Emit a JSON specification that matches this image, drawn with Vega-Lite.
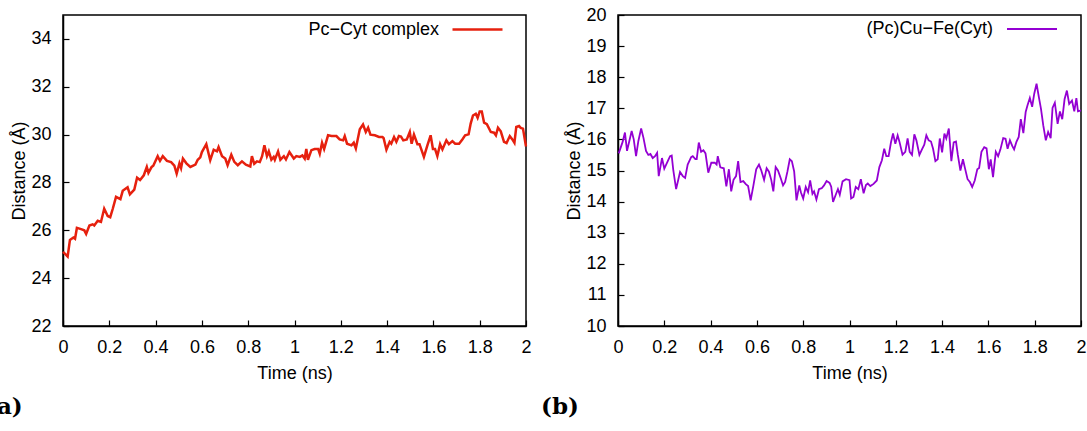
{
  "$schema": "https://vega.github.io/schema/vega-lite/v6.json",
  "background": "white",
  "padding": {"left": -15, "top": 2, "right": 0, "bottom": 0},
  "bounds": "flush",
  "spacing": 92,
  "resolve": {"scale": {"color": "independent", "x": "independent", "y": "independent"}, "legend": {"color": "independent"}},
  "config": {
    "font": "Liberation Sans",
    "view": {"stroke": "#000", "strokeWidth": 1.5},
    "axis": {
      "labelFont": "Liberation Sans", "labelFontSize": 18, "labelColor": "#000",
      "titleFont": "Liberation Sans", "titleFontSize": 18, "titleFontWeight": "normal", "titleColor": "#000",
      "domainColor": "#000", "domainWidth": 1.5, "tickColor": "#000", "tickWidth": 1.2,
      "tickSize": -6, "labelPadding": 18, "grid": false, "labelFlush": false
    },
    "axisX": {"titlePadding": 8, "minExtent": 30, "maxExtent": 30},
    "axisY": {"titlePadding": 1, "minExtent": 34, "maxExtent": 34},
    "legend": {
      "symbolType": "stroke", "symbolSize": 2500, "labelFont": "Liberation Sans", "labelFontSize": 18,
      "labelColor": "#000", "labelAlign": "right", "labelOffset": -65, "padding": 0, "labelLimit": 300
    },
    "title": {"font": "DejaVu Serif", "fontSize": 23, "fontWeight": "bold", "color": "#000"}
  },
  "datasets": {
    "a": [
      {"t":0.0,"d":25.1,"s":"Pc−Cyt complex"},{"t":0.01,"d":25.0,"s":"Pc−Cyt complex"},{"t":0.02,"d":24.9,"s":"Pc−Cyt complex"},{"t":0.03,"d":25.6,"s":"Pc−Cyt complex"},{"t":0.045,"d":25.7,"s":"Pc−Cyt complex"},{"t":0.052,"d":25.65,"s":"Pc−Cyt complex"},{"t":0.06,"d":26.1,"s":"Pc−Cyt complex"},{"t":0.078,"d":26.05,"s":"Pc−Cyt complex"},{"t":0.092,"d":26.0,"s":"Pc−Cyt complex"},{"t":0.1,"d":25.85,"s":"Pc−Cyt complex"},
      {"t":0.114,"d":26.2,"s":"Pc−Cyt complex"},{"t":0.128,"d":26.25,"s":"Pc−Cyt complex"},{"t":0.135,"d":26.2,"s":"Pc−Cyt complex"},{"t":0.15,"d":26.4,"s":"Pc−Cyt complex"},{"t":0.164,"d":26.35,"s":"Pc−Cyt complex"},{"t":0.178,"d":26.9,"s":"Pc−Cyt complex"},{"t":0.193,"d":26.6,"s":"Pc−Cyt complex"},{"t":0.204,"d":26.55,"s":"Pc−Cyt complex"},{"t":0.215,"d":26.9,"s":"Pc−Cyt complex"},{"t":0.229,"d":27.4,"s":"Pc−Cyt complex"},
      {"t":0.248,"d":27.3,"s":"Pc−Cyt complex"},{"t":0.258,"d":27.65,"s":"Pc−Cyt complex"},{"t":0.279,"d":27.8,"s":"Pc−Cyt complex"},{"t":0.289,"d":27.5,"s":"Pc−Cyt complex"},{"t":0.308,"d":27.7,"s":"Pc−Cyt complex"},{"t":0.32,"d":28.2,"s":"Pc−Cyt complex"},{"t":0.333,"d":28.1,"s":"Pc−Cyt complex"},{"t":0.349,"d":28.3,"s":"Pc−Cyt complex"},{"t":0.362,"d":28.65,"s":"Pc−Cyt complex"},{"t":0.369,"d":28.4,"s":"Pc−Cyt complex"},
      {"t":0.383,"d":28.65,"s":"Pc−Cyt complex"},{"t":0.39,"d":28.7,"s":"Pc−Cyt complex"},{"t":0.409,"d":29.1,"s":"Pc−Cyt complex"},{"t":0.419,"d":28.9,"s":"Pc−Cyt complex"},{"t":0.431,"d":29.1,"s":"Pc−Cyt complex"},{"t":0.449,"d":28.9,"s":"Pc−Cyt complex"},{"t":0.467,"d":28.85,"s":"Pc−Cyt complex"},{"t":0.481,"d":28.7,"s":"Pc−Cyt complex"},{"t":0.491,"d":28.37,"s":"Pc−Cyt complex"},{"t":0.503,"d":28.8,"s":"Pc−Cyt complex"},
      {"t":0.51,"d":28.6,"s":"Pc−Cyt complex"},{"t":0.518,"d":29.0,"s":"Pc−Cyt complex"},{"t":0.533,"d":28.8,"s":"Pc−Cyt complex"},{"t":0.55,"d":28.65,"s":"Pc−Cyt complex"},{"t":0.572,"d":28.75,"s":"Pc−Cyt complex"},{"t":0.582,"d":28.95,"s":"Pc−Cyt complex"},{"t":0.593,"d":29.05,"s":"Pc−Cyt complex"},{"t":0.6,"d":29.27,"s":"Pc−Cyt complex"},{"t":0.619,"d":29.6,"s":"Pc−Cyt complex"},{"t":0.636,"d":28.93,"s":"Pc−Cyt complex"},
      {"t":0.651,"d":29.37,"s":"Pc−Cyt complex"},{"t":0.665,"d":29.3,"s":"Pc−Cyt complex"},{"t":0.672,"d":29.48,"s":"Pc−Cyt complex"},{"t":0.687,"d":29.1,"s":"Pc−Cyt complex"},{"t":0.701,"d":29.0,"s":"Pc−Cyt complex"},{"t":0.711,"d":28.72,"s":"Pc−Cyt complex"},{"t":0.727,"d":29.16,"s":"Pc−Cyt complex"},{"t":0.74,"d":28.86,"s":"Pc−Cyt complex"},{"t":0.755,"d":28.72,"s":"Pc−Cyt complex"},{"t":0.773,"d":28.88,"s":"Pc−Cyt complex"},
      {"t":0.79,"d":28.74,"s":"Pc−Cyt complex"},{"t":0.809,"d":28.67,"s":"Pc−Cyt complex"},{"t":0.816,"d":29.1,"s":"Pc−Cyt complex"},{"t":0.826,"d":28.78,"s":"Pc−Cyt complex"},{"t":0.838,"d":28.88,"s":"Pc−Cyt complex"},{"t":0.85,"d":28.85,"s":"Pc−Cyt complex"},{"t":0.86,"d":29.1,"s":"Pc−Cyt complex"},{"t":0.87,"d":29.55,"s":"Pc−Cyt complex"},{"t":0.881,"d":29.1,"s":"Pc−Cyt complex"},{"t":0.889,"d":29.3,"s":"Pc−Cyt complex"},
      {"t":0.9,"d":28.95,"s":"Pc−Cyt complex"},{"t":0.91,"d":29.07,"s":"Pc−Cyt complex"},{"t":0.915,"d":28.95,"s":"Pc−Cyt complex"},{"t":0.929,"d":29.3,"s":"Pc−Cyt complex"},{"t":0.939,"d":28.95,"s":"Pc−Cyt complex"},{"t":0.954,"d":29.1,"s":"Pc−Cyt complex"},{"t":0.963,"d":28.96,"s":"Pc−Cyt complex"},{"t":0.978,"d":29.27,"s":"Pc−Cyt complex"},{"t":0.997,"d":29.0,"s":"Pc−Cyt complex"},{"t":1.008,"d":29.1,"s":"Pc−Cyt complex"},
      {"t":1.023,"d":29.07,"s":"Pc−Cyt complex"},{"t":1.034,"d":29.13,"s":"Pc−Cyt complex"},{"t":1.044,"d":29.0,"s":"Pc−Cyt complex"},{"t":1.051,"d":29.4,"s":"Pc−Cyt complex"},{"t":1.058,"d":28.95,"s":"Pc−Cyt complex"},{"t":1.073,"d":29.35,"s":"Pc−Cyt complex"},{"t":1.087,"d":29.4,"s":"Pc−Cyt complex"},{"t":1.102,"d":29.4,"s":"Pc−Cyt complex"},{"t":1.109,"d":29.2,"s":"Pc−Cyt complex"},{"t":1.119,"d":29.66,"s":"Pc−Cyt complex"},
      {"t":1.128,"d":29.4,"s":"Pc−Cyt complex"},{"t":1.145,"d":29.97,"s":"Pc−Cyt complex"},{"t":1.16,"d":29.94,"s":"Pc−Cyt complex"},{"t":1.181,"d":29.94,"s":"Pc−Cyt complex"},{"t":1.195,"d":29.8,"s":"Pc−Cyt complex"},{"t":1.21,"d":29.76,"s":"Pc−Cyt complex"},{"t":1.217,"d":29.94,"s":"Pc−Cyt complex"},{"t":1.227,"d":29.62,"s":"Pc−Cyt complex"},{"t":1.246,"d":29.55,"s":"Pc−Cyt complex"},{"t":1.256,"d":29.66,"s":"Pc−Cyt complex"},
      {"t":1.265,"d":29.42,"s":"Pc−Cyt complex"},{"t":1.282,"d":30.22,"s":"Pc−Cyt complex"},{"t":1.296,"d":30.42,"s":"Pc−Cyt complex"},{"t":1.308,"d":30.11,"s":"Pc−Cyt complex"},{"t":1.318,"d":30.29,"s":"Pc−Cyt complex"},{"t":1.328,"d":30.0,"s":"Pc−Cyt complex"},{"t":1.347,"d":29.97,"s":"Pc−Cyt complex"},{"t":1.365,"d":29.9,"s":"Pc−Cyt complex"},{"t":1.38,"d":29.9,"s":"Pc−Cyt complex"},{"t":1.385,"d":29.85,"s":"Pc−Cyt complex"},
      {"t":1.397,"d":29.37,"s":"Pc−Cyt complex"},{"t":1.411,"d":29.7,"s":"Pc−Cyt complex"},{"t":1.418,"d":29.62,"s":"Pc−Cyt complex"},{"t":1.43,"d":29.9,"s":"Pc−Cyt complex"},{"t":1.44,"d":29.7,"s":"Pc−Cyt complex"},{"t":1.451,"d":29.94,"s":"Pc−Cyt complex"},{"t":1.46,"d":29.92,"s":"Pc−Cyt complex"},{"t":1.47,"d":29.76,"s":"Pc−Cyt complex"},{"t":1.485,"d":29.8,"s":"Pc−Cyt complex"},{"t":1.498,"d":30.11,"s":"Pc−Cyt complex"},
      {"t":1.506,"d":29.62,"s":"Pc−Cyt complex"},{"t":1.516,"d":30.0,"s":"Pc−Cyt complex"},{"t":1.531,"d":29.6,"s":"Pc−Cyt complex"},{"t":1.54,"d":29.6,"s":"Pc−Cyt complex"},{"t":1.559,"d":29.07,"s":"Pc−Cyt complex"},{"t":1.574,"d":29.55,"s":"Pc−Cyt complex"},{"t":1.588,"d":29.97,"s":"Pc−Cyt complex"},{"t":1.598,"d":29.4,"s":"Pc−Cyt complex"},{"t":1.607,"d":29.4,"s":"Pc−Cyt complex"},{"t":1.617,"d":29.1,"s":"Pc−Cyt complex"},
      {"t":1.629,"d":29.6,"s":"Pc−Cyt complex"},{"t":1.639,"d":29.38,"s":"Pc−Cyt complex"},{"t":1.656,"d":29.76,"s":"Pc−Cyt complex"},{"t":1.667,"d":29.6,"s":"Pc−Cyt complex"},{"t":1.682,"d":29.73,"s":"Pc−Cyt complex"},{"t":1.694,"d":29.62,"s":"Pc−Cyt complex"},{"t":1.711,"d":29.62,"s":"Pc−Cyt complex"},{"t":1.725,"d":29.8,"s":"Pc−Cyt complex"},{"t":1.737,"d":29.97,"s":"Pc−Cyt complex"},{"t":1.752,"d":30.01,"s":"Pc−Cyt complex"},
      {"t":1.761,"d":30.46,"s":"Pc−Cyt complex"},{"t":1.771,"d":30.8,"s":"Pc−Cyt complex"},{"t":1.783,"d":30.87,"s":"Pc−Cyt complex"},{"t":1.791,"d":30.7,"s":"Pc−Cyt complex"},{"t":1.8,"d":30.97,"s":"Pc−Cyt complex"},{"t":1.809,"d":30.97,"s":"Pc−Cyt complex"},{"t":1.819,"d":30.5,"s":"Pc−Cyt complex"},{"t":1.831,"d":30.44,"s":"Pc−Cyt complex"},{"t":1.848,"d":30.11,"s":"Pc−Cyt complex"},{"t":1.862,"d":30.08,"s":"Pc−Cyt complex"},
      {"t":1.87,"d":29.97,"s":"Pc−Cyt complex"},{"t":1.879,"d":30.29,"s":"Pc−Cyt complex"},{"t":1.891,"d":30.14,"s":"Pc−Cyt complex"},{"t":1.905,"d":29.7,"s":"Pc−Cyt complex"},{"t":1.916,"d":29.65,"s":"Pc−Cyt complex"},{"t":1.93,"d":29.94,"s":"Pc−Cyt complex"},{"t":1.941,"d":29.8,"s":"Pc−Cyt complex"},{"t":1.95,"d":29.66,"s":"Pc−Cyt complex"},{"t":1.958,"d":30.32,"s":"Pc−Cyt complex"},{"t":1.97,"d":30.36,"s":"Pc−Cyt complex"},
      {"t":1.977,"d":30.28,"s":"Pc−Cyt complex"},{"t":1.987,"d":30.25,"s":"Pc−Cyt complex"},{"t":2.0,"d":29.5,"s":"Pc−Cyt complex"}
    ],
    "b": [
      {"t":0.003,"d":15.55,"s":"(Pc)Cu−Fe(Cyt)"},{"t":0.02,"d":15.92,"s":"(Pc)Cu−Fe(Cyt)"},{"t":0.03,"d":16.22,"s":"(Pc)Cu−Fe(Cyt)"},{"t":0.039,"d":15.63,"s":"(Pc)Cu−Fe(Cyt)"},{"t":0.049,"d":15.95,"s":"(Pc)Cu−Fe(Cyt)"},{"t":0.059,"d":16.27,"s":"(Pc)Cu−Fe(Cyt)"},{"t":0.068,"d":16.0,"s":"(Pc)Cu−Fe(Cyt)"},{"t":0.078,"d":15.46,"s":"(Pc)Cu−Fe(Cyt)"},{"t":0.088,"d":15.95,"s":"(Pc)Cu−Fe(Cyt)"},{"t":0.1,"d":16.35,"s":"(Pc)Cu−Fe(Cyt)"},
      {"t":0.11,"d":16.05,"s":"(Pc)Cu−Fe(Cyt)"},{"t":0.121,"d":15.63,"s":"(Pc)Cu−Fe(Cyt)"},{"t":0.131,"d":15.5,"s":"(Pc)Cu−Fe(Cyt)"},{"t":0.14,"d":15.53,"s":"(Pc)Cu−Fe(Cyt)"},{"t":0.15,"d":15.4,"s":"(Pc)Cu−Fe(Cyt)"},{"t":0.16,"d":15.46,"s":"(Pc)Cu−Fe(Cyt)"},{"t":0.169,"d":15.57,"s":"(Pc)Cu−Fe(Cyt)"},{"t":0.176,"d":14.82,"s":"(Pc)Cu−Fe(Cyt)"},{"t":0.19,"d":15.4,"s":"(Pc)Cu−Fe(Cyt)"},{"t":0.2,"d":15.06,"s":"(Pc)Cu−Fe(Cyt)"},
      {"t":0.215,"d":15.3,"s":"(Pc)Cu−Fe(Cyt)"},{"t":0.225,"d":15.46,"s":"(Pc)Cu−Fe(Cyt)"},{"t":0.232,"d":15.48,"s":"(Pc)Cu−Fe(Cyt)"},{"t":0.239,"d":15.0,"s":"(Pc)Cu−Fe(Cyt)"},{"t":0.251,"d":14.4,"s":"(Pc)Cu−Fe(Cyt)"},{"t":0.268,"d":14.95,"s":"(Pc)Cu−Fe(Cyt)"},{"t":0.28,"d":14.82,"s":"(Pc)Cu−Fe(Cyt)"},{"t":0.29,"d":14.76,"s":"(Pc)Cu−Fe(Cyt)"},{"t":0.301,"d":15.19,"s":"(Pc)Cu−Fe(Cyt)"},{"t":0.316,"d":15.43,"s":"(Pc)Cu−Fe(Cyt)"},
      {"t":0.323,"d":15.46,"s":"(Pc)Cu−Fe(Cyt)"},{"t":0.334,"d":15.37,"s":"(Pc)Cu−Fe(Cyt)"},{"t":0.34,"d":15.37,"s":"(Pc)Cu−Fe(Cyt)"},{"t":0.349,"d":15.9,"s":"(Pc)Cu−Fe(Cyt)"},{"t":0.359,"d":15.6,"s":"(Pc)Cu−Fe(Cyt)"},{"t":0.369,"d":15.65,"s":"(Pc)Cu−Fe(Cyt)"},{"t":0.378,"d":15.55,"s":"(Pc)Cu−Fe(Cyt)"},{"t":0.39,"d":14.93,"s":"(Pc)Cu−Fe(Cyt)"},{"t":0.403,"d":15.25,"s":"(Pc)Cu−Fe(Cyt)"},{"t":0.418,"d":15.25,"s":"(Pc)Cu−Fe(Cyt)"},
      {"t":0.426,"d":15.19,"s":"(Pc)Cu−Fe(Cyt)"},{"t":0.431,"d":15.46,"s":"(Pc)Cu−Fe(Cyt)"},{"t":0.442,"d":15.1,"s":"(Pc)Cu−Fe(Cyt)"},{"t":0.457,"d":15.07,"s":"(Pc)Cu−Fe(Cyt)"},{"t":0.468,"d":14.49,"s":"(Pc)Cu−Fe(Cyt)"},{"t":0.479,"d":15.04,"s":"(Pc)Cu−Fe(Cyt)"},{"t":0.489,"d":14.33,"s":"(Pc)Cu−Fe(Cyt)"},{"t":0.499,"d":14.7,"s":"(Pc)Cu−Fe(Cyt)"},{"t":0.51,"d":14.82,"s":"(Pc)Cu−Fe(Cyt)"},{"t":0.519,"d":15.3,"s":"(Pc)Cu−Fe(Cyt)"},
      {"t":0.529,"d":14.63,"s":"(Pc)Cu−Fe(Cyt)"},{"t":0.541,"d":14.66,"s":"(Pc)Cu−Fe(Cyt)"},{"t":0.552,"d":14.56,"s":"(Pc)Cu−Fe(Cyt)"},{"t":0.562,"d":14.5,"s":"(Pc)Cu−Fe(Cyt)"},{"t":0.573,"d":14.04,"s":"(Pc)Cu−Fe(Cyt)"},{"t":0.585,"d":14.52,"s":"(Pc)Cu−Fe(Cyt)"},{"t":0.597,"d":15.04,"s":"(Pc)Cu−Fe(Cyt)"},{"t":0.609,"d":15.19,"s":"(Pc)Cu−Fe(Cyt)"},{"t":0.619,"d":15.0,"s":"(Pc)Cu−Fe(Cyt)"},{"t":0.631,"d":14.7,"s":"(Pc)Cu−Fe(Cyt)"},
      {"t":0.642,"d":15.07,"s":"(Pc)Cu−Fe(Cyt)"},{"t":0.652,"d":14.96,"s":"(Pc)Cu−Fe(Cyt)"},{"t":0.662,"d":14.7,"s":"(Pc)Cu−Fe(Cyt)"},{"t":0.671,"d":14.33,"s":"(Pc)Cu−Fe(Cyt)"},{"t":0.681,"d":15.11,"s":"(Pc)Cu−Fe(Cyt)"},{"t":0.691,"d":15.0,"s":"(Pc)Cu−Fe(Cyt)"},{"t":0.703,"d":14.75,"s":"(Pc)Cu−Fe(Cyt)"},{"t":0.713,"d":14.52,"s":"(Pc)Cu−Fe(Cyt)"},{"t":0.722,"d":14.63,"s":"(Pc)Cu−Fe(Cyt)"},{"t":0.732,"d":14.97,"s":"(Pc)Cu−Fe(Cyt)"},
      {"t":0.742,"d":15.36,"s":"(Pc)Cu−Fe(Cyt)"},{"t":0.751,"d":15.3,"s":"(Pc)Cu−Fe(Cyt)"},{"t":0.761,"d":14.97,"s":"(Pc)Cu−Fe(Cyt)"},{"t":0.771,"d":14.04,"s":"(Pc)Cu−Fe(Cyt)"},{"t":0.783,"d":14.52,"s":"(Pc)Cu−Fe(Cyt)"},{"t":0.79,"d":14.3,"s":"(Pc)Cu−Fe(Cyt)"},{"t":0.8,"d":14.1,"s":"(Pc)Cu−Fe(Cyt)"},{"t":0.811,"d":14.47,"s":"(Pc)Cu−Fe(Cyt)"},{"t":0.821,"d":14.3,"s":"(Pc)Cu−Fe(Cyt)"},{"t":0.83,"d":14.68,"s":"(Pc)Cu−Fe(Cyt)"},
      {"t":0.84,"d":14.25,"s":"(Pc)Cu−Fe(Cyt)"},{"t":0.847,"d":14.33,"s":"(Pc)Cu−Fe(Cyt)"},{"t":0.857,"d":14.07,"s":"(Pc)Cu−Fe(Cyt)"},{"t":0.868,"d":14.4,"s":"(Pc)Cu−Fe(Cyt)"},{"t":0.88,"d":14.43,"s":"(Pc)Cu−Fe(Cyt)"},{"t":0.89,"d":14.52,"s":"(Pc)Cu−Fe(Cyt)"},{"t":0.901,"d":14.66,"s":"(Pc)Cu−Fe(Cyt)"},{"t":0.914,"d":14.6,"s":"(Pc)Cu−Fe(Cyt)"},{"t":0.921,"d":14.48,"s":"(Pc)Cu−Fe(Cyt)"},{"t":0.929,"d":13.99,"s":"(Pc)Cu−Fe(Cyt)"},
      {"t":0.943,"d":14.27,"s":"(Pc)Cu−Fe(Cyt)"},{"t":0.95,"d":14.4,"s":"(Pc)Cu−Fe(Cyt)"},{"t":0.958,"d":14.22,"s":"(Pc)Cu−Fe(Cyt)"},{"t":0.97,"d":14.65,"s":"(Pc)Cu−Fe(Cyt)"},{"t":0.985,"d":14.72,"s":"(Pc)Cu−Fe(Cyt)"},{"t":1.0,"d":14.69,"s":"(Pc)Cu−Fe(Cyt)"},{"t":1.007,"d":14.1,"s":"(Pc)Cu−Fe(Cyt)"},{"t":1.017,"d":14.15,"s":"(Pc)Cu−Fe(Cyt)"},{"t":1.027,"d":14.47,"s":"(Pc)Cu−Fe(Cyt)"},{"t":1.038,"d":14.4,"s":"(Pc)Cu−Fe(Cyt)"},
      {"t":1.049,"d":14.72,"s":"(Pc)Cu−Fe(Cyt)"},{"t":1.061,"d":14.27,"s":"(Pc)Cu−Fe(Cyt)"},{"t":1.071,"d":14.53,"s":"(Pc)Cu−Fe(Cyt)"},{"t":1.079,"d":14.58,"s":"(Pc)Cu−Fe(Cyt)"},{"t":1.09,"d":14.5,"s":"(Pc)Cu−Fe(Cyt)"},{"t":1.104,"d":14.57,"s":"(Pc)Cu−Fe(Cyt)"},{"t":1.118,"d":14.68,"s":"(Pc)Cu−Fe(Cyt)"},{"t":1.129,"d":15.11,"s":"(Pc)Cu−Fe(Cyt)"},{"t":1.14,"d":15.33,"s":"(Pc)Cu−Fe(Cyt)"},{"t":1.15,"d":15.7,"s":"(Pc)Cu−Fe(Cyt)"},
      {"t":1.159,"d":15.46,"s":"(Pc)Cu−Fe(Cyt)"},{"t":1.169,"d":15.46,"s":"(Pc)Cu−Fe(Cyt)"},{"t":1.179,"d":15.9,"s":"(Pc)Cu−Fe(Cyt)"},{"t":1.188,"d":16.19,"s":"(Pc)Cu−Fe(Cyt)"},{"t":1.198,"d":15.86,"s":"(Pc)Cu−Fe(Cyt)"},{"t":1.208,"d":16.13,"s":"(Pc)Cu−Fe(Cyt)"},{"t":1.216,"d":15.92,"s":"(Pc)Cu−Fe(Cyt)"},{"t":1.229,"d":15.51,"s":"(Pc)Cu−Fe(Cyt)"},{"t":1.241,"d":15.6,"s":"(Pc)Cu−Fe(Cyt)"},{"t":1.251,"d":16.03,"s":"(Pc)Cu−Fe(Cyt)"},
      {"t":1.26,"d":15.6,"s":"(Pc)Cu−Fe(Cyt)"},{"t":1.27,"d":15.5,"s":"(Pc)Cu−Fe(Cyt)"},{"t":1.28,"d":16.16,"s":"(Pc)Cu−Fe(Cyt)"},{"t":1.289,"d":15.97,"s":"(Pc)Cu−Fe(Cyt)"},{"t":1.302,"d":15.5,"s":"(Pc)Cu−Fe(Cyt)"},{"t":1.313,"d":15.68,"s":"(Pc)Cu−Fe(Cyt)"},{"t":1.323,"d":15.83,"s":"(Pc)Cu−Fe(Cyt)"},{"t":1.332,"d":16.13,"s":"(Pc)Cu−Fe(Cyt)"},{"t":1.342,"d":15.97,"s":"(Pc)Cu−Fe(Cyt)"},{"t":1.352,"d":15.93,"s":"(Pc)Cu−Fe(Cyt)"},
      {"t":1.361,"d":15.7,"s":"(Pc)Cu−Fe(Cyt)"},{"t":1.371,"d":15.3,"s":"(Pc)Cu−Fe(Cyt)"},{"t":1.381,"d":15.36,"s":"(Pc)Cu−Fe(Cyt)"},{"t":1.39,"d":16.03,"s":"(Pc)Cu−Fe(Cyt)"},{"t":1.4,"d":15.58,"s":"(Pc)Cu−Fe(Cyt)"},{"t":1.41,"d":16.19,"s":"(Pc)Cu−Fe(Cyt)"},{"t":1.418,"d":16.03,"s":"(Pc)Cu−Fe(Cyt)"},{"t":1.429,"d":16.35,"s":"(Pc)Cu−Fe(Cyt)"},{"t":1.44,"d":15.3,"s":"(Pc)Cu−Fe(Cyt)"},{"t":1.45,"d":15.9,"s":"(Pc)Cu−Fe(Cyt)"},
      {"t":1.46,"d":15.93,"s":"(Pc)Cu−Fe(Cyt)"},{"t":1.468,"d":15.5,"s":"(Pc)Cu−Fe(Cyt)"},{"t":1.479,"d":15.0,"s":"(Pc)Cu−Fe(Cyt)"},{"t":1.49,"d":15.36,"s":"(Pc)Cu−Fe(Cyt)"},{"t":1.498,"d":15.1,"s":"(Pc)Cu−Fe(Cyt)"},{"t":1.51,"d":14.72,"s":"(Pc)Cu−Fe(Cyt)"},{"t":1.52,"d":14.63,"s":"(Pc)Cu−Fe(Cyt)"},{"t":1.53,"d":14.47,"s":"(Pc)Cu−Fe(Cyt)"},{"t":1.541,"d":14.68,"s":"(Pc)Cu−Fe(Cyt)"},{"t":1.552,"d":15.04,"s":"(Pc)Cu−Fe(Cyt)"},
      {"t":1.56,"d":15.08,"s":"(Pc)Cu−Fe(Cyt)"},{"t":1.57,"d":15.6,"s":"(Pc)Cu−Fe(Cyt)"},{"t":1.582,"d":15.75,"s":"(Pc)Cu−Fe(Cyt)"},{"t":1.592,"d":15.71,"s":"(Pc)Cu−Fe(Cyt)"},{"t":1.602,"d":15.04,"s":"(Pc)Cu−Fe(Cyt)"},{"t":1.61,"d":15.36,"s":"(Pc)Cu−Fe(Cyt)"},{"t":1.62,"d":14.79,"s":"(Pc)Cu−Fe(Cyt)"},{"t":1.632,"d":15.6,"s":"(Pc)Cu−Fe(Cyt)"},{"t":1.642,"d":15.46,"s":"(Pc)Cu−Fe(Cyt)"},{"t":1.652,"d":15.68,"s":"(Pc)Cu−Fe(Cyt)"},
      {"t":1.664,"d":16.04,"s":"(Pc)Cu−Fe(Cyt)"},{"t":1.674,"d":16.02,"s":"(Pc)Cu−Fe(Cyt)"},{"t":1.683,"d":15.7,"s":"(Pc)Cu−Fe(Cyt)"},{"t":1.693,"d":15.97,"s":"(Pc)Cu−Fe(Cyt)"},{"t":1.703,"d":15.79,"s":"(Pc)Cu−Fe(Cyt)"},{"t":1.711,"d":15.68,"s":"(Pc)Cu−Fe(Cyt)"},{"t":1.721,"d":15.92,"s":"(Pc)Cu−Fe(Cyt)"},{"t":1.731,"d":16.08,"s":"(Pc)Cu−Fe(Cyt)"},{"t":1.74,"d":16.65,"s":"(Pc)Cu−Fe(Cyt)"},{"t":1.751,"d":16.2,"s":"(Pc)Cu−Fe(Cyt)"},
      {"t":1.761,"d":16.88,"s":"(Pc)Cu−Fe(Cyt)"},{"t":1.769,"d":17.1,"s":"(Pc)Cu−Fe(Cyt)"},{"t":1.779,"d":17.33,"s":"(Pc)Cu−Fe(Cyt)"},{"t":1.789,"d":17.05,"s":"(Pc)Cu−Fe(Cyt)"},{"t":1.798,"d":17.47,"s":"(Pc)Cu−Fe(Cyt)"},{"t":1.808,"d":17.79,"s":"(Pc)Cu−Fe(Cyt)"},{"t":1.818,"d":17.36,"s":"(Pc)Cu−Fe(Cyt)"},{"t":1.827,"d":16.99,"s":"(Pc)Cu−Fe(Cyt)"},{"t":1.837,"d":16.45,"s":"(Pc)Cu−Fe(Cyt)"},{"t":1.848,"d":15.97,"s":"(Pc)Cu−Fe(Cyt)"},
      {"t":1.858,"d":16.24,"s":"(Pc)Cu−Fe(Cyt)"},{"t":1.869,"d":16.04,"s":"(Pc)Cu−Fe(Cyt)"},{"t":1.877,"d":17.01,"s":"(Pc)Cu−Fe(Cyt)"},{"t":1.887,"d":17.18,"s":"(Pc)Cu−Fe(Cyt)"},{"t":1.899,"d":16.5,"s":"(Pc)Cu−Fe(Cyt)"},{"t":1.909,"d":16.9,"s":"(Pc)Cu−Fe(Cyt)"},{"t":1.919,"d":16.65,"s":"(Pc)Cu−Fe(Cyt)"},{"t":1.929,"d":17.29,"s":"(Pc)Cu−Fe(Cyt)"},{"t":1.939,"d":17.57,"s":"(Pc)Cu−Fe(Cyt)"},{"t":1.949,"d":17.14,"s":"(Pc)Cu−Fe(Cyt)"},
      {"t":1.961,"d":17.25,"s":"(Pc)Cu−Fe(Cyt)"},{"t":1.971,"d":16.9,"s":"(Pc)Cu−Fe(Cyt)"},{"t":1.98,"d":17.33,"s":"(Pc)Cu−Fe(Cyt)"},{"t":1.987,"d":16.9,"s":"(Pc)Cu−Fe(Cyt)"},{"t":2.0,"d":16.93,"s":"(Pc)Cu−Fe(Cyt)"}
    ]
  },
  "hconcat": [
    {
      "width": 463,
      "height": 311,
      "title": {"text": "(a)", "orient": "bottom", "anchor": "start", "frame": "group", "dx": -77, "offset": 14},
      "data": {"name": "a"},
      "mark": {"type": "line", "strokeWidth": 2.5},
      "encoding": {
        "x": {"field": "t", "type": "quantitative", "scale": {"domain": [0, 2], "nice": false, "zero": false},
              "axis": {"title": "Time (ns)", "values": [0, 0.2, 0.4, 0.6, 0.8, 1, 1.2, 1.4, 1.6, 1.8, 2], "format": "~g"}},
        "y": {"field": "d", "type": "quantitative", "scale": {"domain": [22, 35], "nice": false, "zero": false},
              "axis": {"title": "Distance (Å)", "values": [22, 24, 26, 28, 30, 32, 34]}},
        "color": {"field": "s", "type": "nominal", "scale": {"range": ["#e6200e"]},
                  "legend": {"title": null, "orient": "none", "legendX": 388, "legendY": -12, "symbolStrokeWidth": 2.5}}
      }
    },
    {
      "width": 463,
      "height": 311,
      "title": {"text": "(b)", "orient": "bottom", "anchor": "start", "frame": "group", "dx": -77, "offset": 14},
      "data": {"name": "b"},
      "mark": {"type": "line", "strokeWidth": 1.8},
      "encoding": {
        "x": {"field": "t", "type": "quantitative", "scale": {"domain": [0, 2], "nice": false, "zero": false},
              "axis": {"title": "Time (ns)", "values": [0, 0.2, 0.4, 0.6, 0.8, 1, 1.2, 1.4, 1.6, 1.8, 2], "format": "~g"}},
        "y": {"field": "d", "type": "quantitative", "scale": {"domain": [10, 20], "nice": false, "zero": false},
              "axis": {"title": "Distance (Å)", "values": [10, 11, 12, 13, 14, 15, 16, 17, 18, 19, 20]}},
        "color": {"field": "s", "type": "nominal", "scale": {"range": ["#9400d3"]},
                  "legend": {"title": null, "orient": "none", "legendX": 388, "legendY": -12, "symbolStrokeWidth": 1.8}}
      }
    }
  ]
}
